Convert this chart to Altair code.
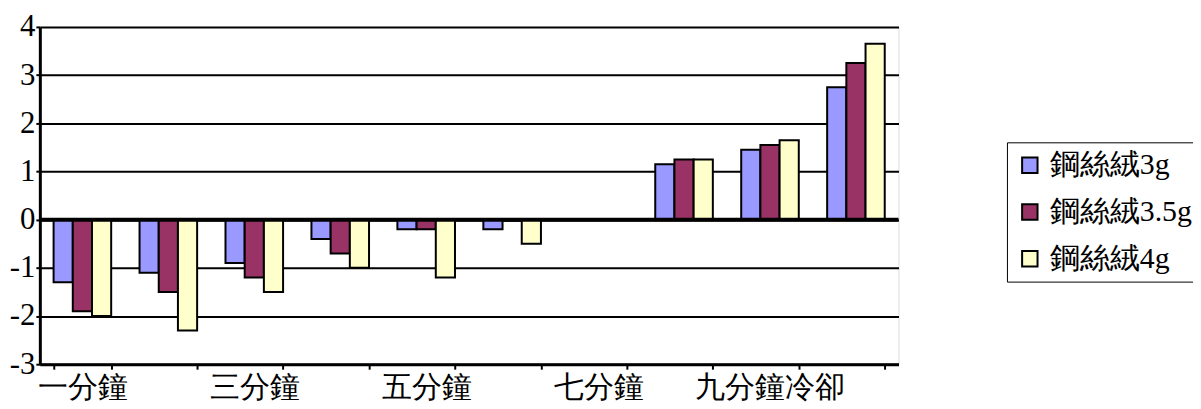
import altair as alt
import pandas as pd

categories = ["一分鐘", "二分鐘", "三分鐘", "四分鐘", "五分鐘", "六分鐘", "七分鐘", "八分鐘", "九分鐘冷卻", "十分鐘冷卻"]
series_names = ["鋼絲絨3g", "鋼絲絨3.5g", "鋼絲絨4g"]
s3 = [-1.3, -1.1, -0.9, -0.4, -0.2, -0.2, 0.0, 1.15, 1.45, 2.75]
s35 = [-1.9, -1.5, -1.2, -0.7, -0.2, -0.02, 0.0, 1.25, 1.55, 3.25]
s4 = [-2.0, -2.3, -1.5, -1.0, -1.2, -0.5, 0.0, 1.25, 1.65, 3.65]
colors = ["#9999FF", "#993366", "#FFFFCC"]
shown_labels = ["一分鐘", "三分鐘", "五分鐘", "七分鐘", "九分鐘冷卻"]

rows = []
for vals, name in zip([s3, s35, s4], series_names):
    for c, v in zip(categories, vals):
        rows.append({"cat": c, "series": name, "value": v})
df = pd.DataFrame(rows)

FONT = "Liberation Serif"
label_list = "[" + ",".join("'" + s + "'" for s in shown_labels) + "]"

bars = alt.Chart(df).mark_bar(stroke="black", strokeWidth=2).encode(
    x=alt.X("cat:N", sort=categories, title=None,
            scale=alt.Scale(paddingInner=0.33, paddingOuter=0.16),
            axis=alt.Axis(labelAngle=0, labelFontSize=30, labelFont=FONT, labelColor="black",
                          labelExpr="indexof(" + label_list + ", datum.value) >= 0 ? datum.label : ''",
                          tickBand="extent", tickColor="black", tickSize=5, tickWidth=2,
                          domainColor="black", domainWidth=3, labelPadding=3, labelOverlap=False)),
    xOffset=alt.XOffset("series:N", sort=series_names),
    y=alt.Y("value:Q", title=None,
            scale=alt.Scale(domain=[-3, 4], nice=False),
            axis=alt.Axis(values=[-3, -2, -1, 0, 1, 2, 3, 4], labelFontSize=31, labelFont=FONT,
                          labelExpr="datum.value < 0 ? '-' + abs(datum.value) : '' + datum.value",
                          labelColor="black", gridColor="black", gridWidth=2,
                          domainColor="black", domainWidth=3, tickColor="black", tickSize=4,
                          tickWidth=2, labelPadding=1)),
    color=alt.Color("series:N", sort=series_names,
                    scale=alt.Scale(domain=series_names, range=colors),
                    legend=alt.Legend(title=None, orient="none", legendX=972, legendY=116,
                                      labelFontSize=30, labelFont=FONT, labelColor="black",
                                      symbolType="square", symbolSize=240, symbolStrokeColor="black",
                                      symbolStrokeWidth=2, strokeColor="black", fillColor="white",
                                      padding=8, rowPadding=17, labelOffset=5)),
)

zero_df = pd.DataFrame({"y": [0]})
zero = alt.Chart(zero_df).mark_rule(color="black", strokeWidth=4).encode(y="y:Q")

chart = alt.layer(bars, zero).properties(
    width=863, height=339,
    autosize=alt.AutoSizeParams(type="none"),
    padding={"left": 32, "top": 18, "right": 296, "bottom": 42},
).configure_view(
    fill="#C0C0C0", stroke="#808080", strokeWidth=3
).configure(font=FONT)

chart.save("out.html", embed_options={"renderer": "svg", "actions": False})
